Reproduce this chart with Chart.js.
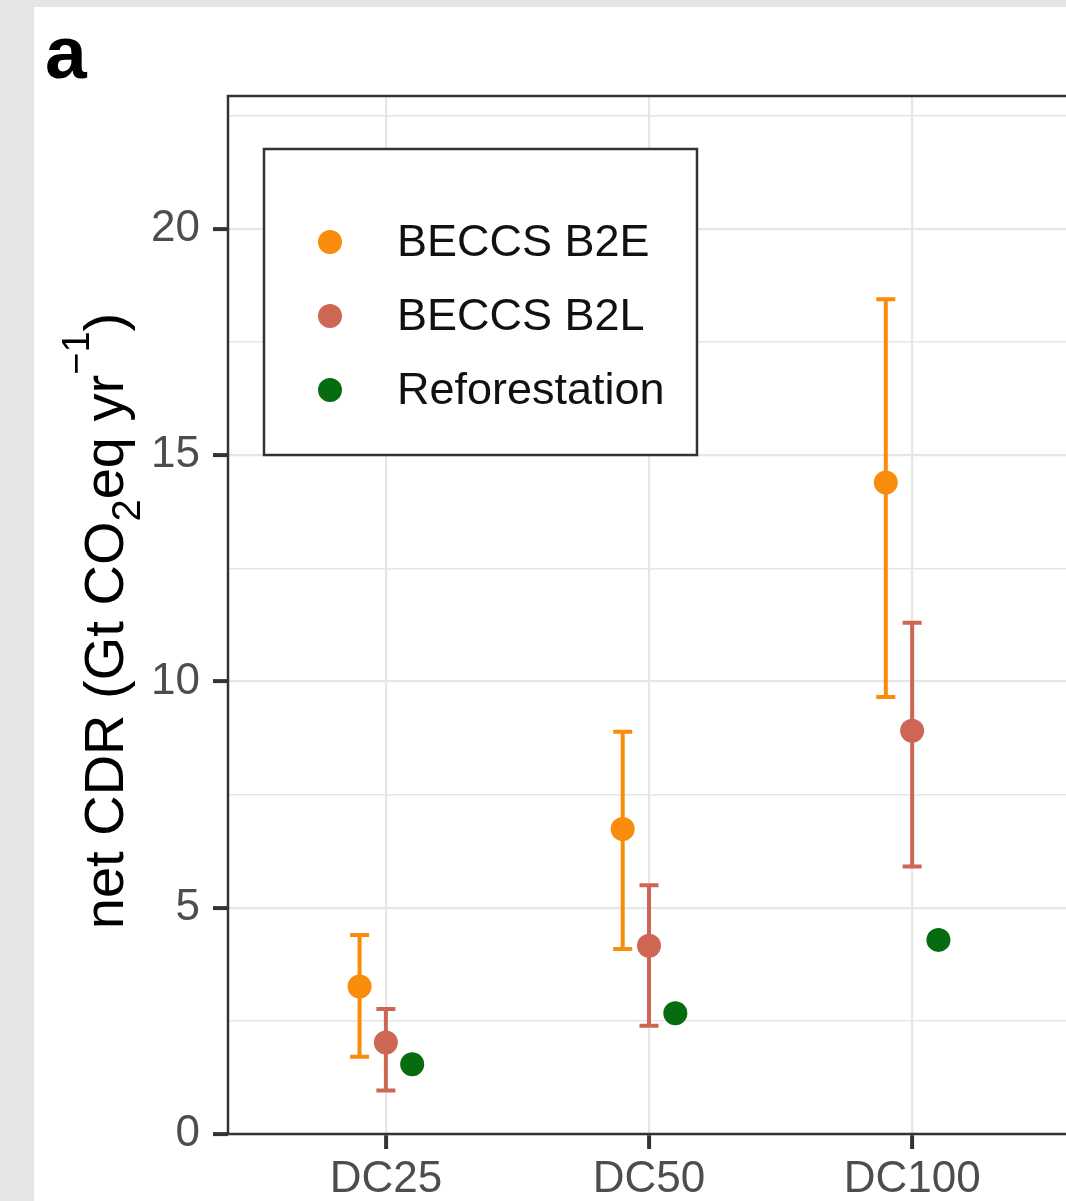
<!DOCTYPE html>
<html>
<head>
<meta charset="utf-8">
<title>net CDR</title>
<script src="https://cdn.jsdelivr.net/npm/chart.js@4.4.1/dist/chart.umd.min.js"></script>
<style>
  html, body { margin: 0; padding: 0; background: #e5e5e5; overflow: hidden; width: 1066px; height: 1201px; }
  #panel { position: absolute; left: 34px; top: 7px; width: 1040px; height: 1194px; background: #fff; }
</style>
</head>
<body>
<div id="panel"><canvas id="cdrChart" width="1040" height="1194"></canvas></div>
<script>
// Data
const categories = ['DC25', 'DC50', 'DC100'];
const yTickLabels = [0, 5, 10, 15, 20];
const seriesNames = ['BECCS B2E', 'BECCS B2L', 'Reforestation'];

const b2eMean = [3.26, 6.74, 14.40];
const b2eLow = [1.71, 4.09, 9.66];
const b2eHigh = [4.40, 8.89, 18.45];

const b2lMean = [2.02, 4.16, 8.91];
const b2lLow = [0.96, 2.39, 5.91];
const b2lHigh = [2.76, 5.50, 11.30];

const reforestMean = [1.54, 2.67, 4.29];

// Styling
const FONT = "'Liberation Sans', Arial, Helvetica, sans-serif";
const colors = ['#f98c0a', '#cd6753', '#076b10'];
const dodge = [-0.1, 0, 0.1];

function points(values, k) {
    return values.map((v, i) => ({ x: i + 1 + dodge[k], y: v }));
}

// Error bars with caps, drawn under the points
const errorBars = {
    id: 'errorBars',
    beforeDatasetsDraw(chart) {
        const { ctx, scales: { x, y } } = chart;
        chart.data.datasets.forEach(ds => {
            if (!ds.low) return;
            ctx.save();
            ctx.strokeStyle = ds.backgroundColor;
            ctx.lineWidth = 4;
            ds.data.forEach((pt, i) => {
                const px = x.getPixelForValue(pt.x);
                const top = y.getPixelForValue(ds.high[i]);
                const bot = y.getPixelForValue(ds.low[i]);
                ctx.beginPath();
                ctx.moveTo(px, top); ctx.lineTo(px, bot);
                ctx.moveTo(px - 9.5, top); ctx.lineTo(px + 9.5, top);
                ctx.moveTo(px - 9.5, bot); ctx.lineTo(px + 9.5, bot);
                ctx.stroke();
            });
            ctx.restore();
        });
    }
};

// Panel border, legend box, y title and panel letter
const decorations = {
    id: 'decorations',
    afterDraw(chart) {
        const { ctx, chartArea: area } = chart;
        ctx.save();

        // panel border
        ctx.strokeStyle = '#333333';
        ctx.lineWidth = 2.5;
        ctx.strokeRect(area.left, area.top, area.right - area.left, area.bottom - area.top);

        // legend
        const lx = area.left + 36, ly = area.top + 53, lw = 433, lh = 306;
        ctx.fillStyle = '#ffffff';
        ctx.fillRect(lx, ly, lw, lh);
        ctx.strokeStyle = '#333333';
        ctx.lineWidth = 2.5;
        ctx.strokeRect(lx, ly, lw, lh);
        ctx.font = '45px ' + FONT;
        ctx.textBaseline = 'middle';
        ctx.textAlign = 'left';
        chart.data.datasets.forEach((ds, i) => {
            const cy = ly + 93 + i * 74;
            ctx.fillStyle = ds.backgroundColor;
            ctx.beginPath();
            ctx.arc(lx + 66, cy, 12, 0, Math.PI * 2);
            ctx.fill();
            ctx.fillStyle = '#111111';
            ctx.fillText(ds.label, lx + 133, cy + 2);
        });

        // y axis title with sub/superscripts
        const parts = [
            { text: 'net CDR (Gt CO', size: 56, dy: 0 },
            { text: '2', size: 40, dy: 0.3 },
            { text: 'eq yr', size: 56, dy: 0 },
            { text: '\u22121', size: 38, dy: -0.6 },
            { text: ')', size: 56, dy: 0 }
        ];
        let total = 0;
        parts.forEach(p => {
            ctx.font = p.size + 'px ' + FONT;
            p.w = ctx.measureText(p.text).width;
            total += p.w;
        });
        ctx.translate(89, (area.top + area.bottom) / 2 + 6);
        ctx.rotate(-Math.PI / 2);
        ctx.fillStyle = '#000000';
        ctx.textBaseline = 'alphabetic';
        let tx = -total / 2;
        parts.forEach(p => {
            ctx.font = p.size + 'px ' + FONT;
            ctx.fillText(p.text, tx, p.dy * 56);
            tx += p.w;
        });
        ctx.setTransform(1, 0, 0, 1, 0, 0);

        // panel letter
        ctx.font = 'bold 75px ' + FONT;
        ctx.fillStyle = '#000000';
        ctx.fillText('a', 11, 71);
        ctx.restore();
    }
};

const isMajor = v => yTickLabels.includes(v);

new Chart(document.getElementById('cdrChart'), {
    type: 'scatter',
    data: {
        datasets: [
            { label: seriesNames[0], data: points(b2eMean, 0), low: b2eLow, high: b2eHigh, backgroundColor: colors[0] },
            { label: seriesNames[1], data: points(b2lMean, 1), low: b2lLow, high: b2lHigh, backgroundColor: colors[1] },
            { label: seriesNames[2], data: points(reforestMean, 2), backgroundColor: colors[2] }
        ]
    },
    options: {
        responsive: false,
        animation: false,
        layout: { autoPadding: false, padding: { top: 89, right: 4, left: 0, bottom: 0 } },
        elements: {
            point: { radius: 12, hoverRadius: 12, borderWidth: 0 }
        },
        plugins: {
            legend: { display: false },
            tooltip: { enabled: false }
        },
        scales: {
            x: {
                type: 'linear',
                min: 0.4,
                max: 3.6,
                afterBuildTicks: scale => {
                    scale.ticks = categories.map((c, i) => ({ value: i + 1 }));
                },
                afterFit: scale => { scale.height = 67; },
                ticks: {
                    callback: value => categories[value - 1],
                    color: '#4d4d4d',
                    font: { family: FONT, size: 44 },
                    padding: 4,
                    maxRotation: 0,
                    autoSkip: false
                },
                grid: {
                    color: '#e6e6e6',
                    lineWidth: 2.2,
                    tickLength: 15,
                    tickColor: '#333333',
                    tickWidth: 4
                },
                border: { display: false }
            },
            y: {
                min: 0,
                max: 22.94,
                afterFit: scale => { scale.width = 194; },
                ticks: {
                    stepSize: 2.5,
                    includeBounds: false,
                    autoSkip: false,
                    callback: value => isMajor(value) ? String(value) : '',
                    color: '#4d4d4d',
                    font: { family: FONT, size: 44 },
                    padding: 13
                },
                grid: {
                    color: '#e6e6e6',
                    lineWidth: ctx => isMajor(ctx.tick.value) ? 2.2 : 1.4,
                    tickLength: 15,
                    tickColor: ctx => isMajor(ctx.tick.value) ? '#333333' : 'rgba(0,0,0,0)',
                    tickWidth: 4
                },
                border: { display: false }
            }
        }
    },
    plugins: [errorBars, decorations]
});
</script>
</body>
</html>
